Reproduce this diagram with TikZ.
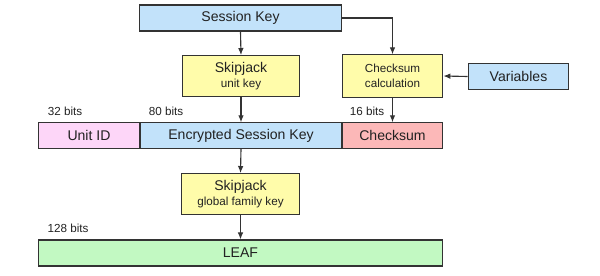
\documentclass[tikz,border=0pt]{standalone}
\usepackage{fontspec}
\setmainfont{Liberation Sans}
\usepackage{xcolor}
\usetikzlibrary{positioning, arrows.meta}
\definecolor{keyblue}{HTML}{C2E2FA}
\definecolor{cipher}{HTML}{FFFCAA}
\definecolor{unitpink}{HTML}{FDD6F8}
\definecolor{sumred}{HTML}{FCB8B8}
\definecolor{leafgreen}{HTML}{C2F9C2}
\definecolor{edge}{HTML}{333333}
\definecolor{txt}{HTML}{222222}
\begin{document}
\begin{tikzpicture}[x=0.025cm, y=-0.025cm,
  field/.style={draw=edge, line width=0.8pt, text=txt, font=\fontsize{10}{12}\selectfont,
                inner sep=0pt, align=center},
  algo/.style={draw=edge, line width=0.8pt, fill=cipher, text=txt,
               inner sep=0pt, align=center, minimum width=83.5pt, minimum height=29pt},
  bits/.style={text=txt, font=\fontsize{8.3}{10}\selectfont, inner sep=0pt},
  sub/.style={font=\fontsize{8.3}{10}\selectfont},
  arr/.style={-{Latex[length=5pt,width=4pt]}, draw=edge, line width=0.8pt}]
  \useasboundingbox (0,0) rectangle (600,276);
  % top: session key and inputs
  \node[field, fill=keyblue, minimum width=144pt, minimum height=18.5pt] (sk) at (240.5,18) {Session Key};
  \node[algo] (uk) at (241,76) {Skipjack\\[-1pt]{\fontsize{8.3}{10}\selectfont unit key}};
  \node[algo, font=\fontsize{8.3}{11}\selectfont, minimum width=71.6pt, minimum height=30pt] (cc) at (392.5,76) {Checksum\\calculation};
  \node[field, fill=keyblue, minimum width=71.6pt, minimum height=18pt] (var) at (518.5,76.5) {Variables};
  % middle row: the fields
  \node[field, fill=unitpink, minimum width=72.3pt, minimum height=18pt] (uid) at (89,135.5) {Unit ID};
  \node[field, fill=keyblue, minimum width=143.2pt, minimum height=18pt] (esk) at (241,135.5) {Encrypted Session Key};
  \node[field, fill=sumred, minimum width=71.6pt, minimum height=18pt] (cs) at (392.5,135.5) {Checksum};
  \node[bits] at (65,111) {32 bits};
  \node[bits] at (166,111) {80 bits};
  \node[bits] at (367,111) {16 bits};
  % bottom: family key and LEAF
  \node[algo] (gk) at (240.5,194) {Skipjack\\[-1pt]{\fontsize{8.3}{10}\selectfont global family key}};
  \node[bits] at (68,228) {128 bits};
  \node[field, fill=leafgreen, minimum width=287pt, minimum height=18.5pt] (leaf) at (240.5,253) {LEAF};
  % connectors
  \draw[arr] (sk.south) -- (uk.north);
  \draw[arr] (sk.east) -| (cc.north);
  \draw[arr] (var.west) -- (cc.east);
  \draw[arr] (uk.south) -- (esk.north);
  \draw[arr] (cc.south) -- (cs.north);
  \draw[arr] (esk.south) -- (gk.north);
  \draw[arr] (gk.south) -- (leaf.north);
\end{tikzpicture}
\end{document}
